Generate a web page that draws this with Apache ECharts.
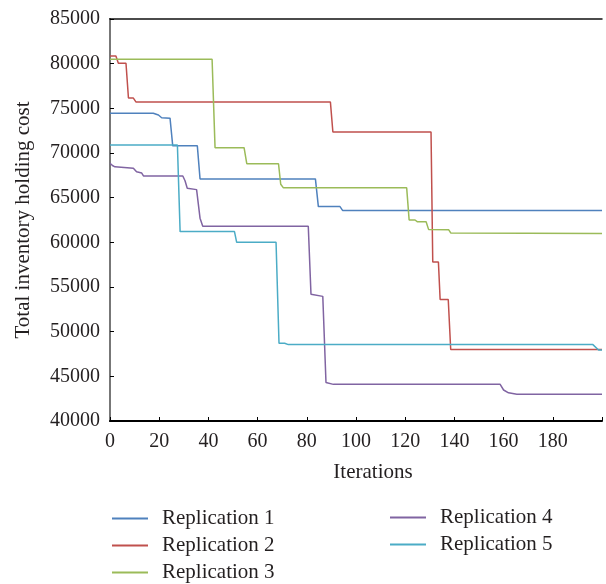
<!DOCTYPE html>
<html>
<head>
<meta charset="utf-8">
<script src="https://cdn.jsdelivr.net/npm/echarts@6/dist/echarts.min.js"></script>
<style>html,body{margin:0;padding:0;background:#fff}#c{width:606px;height:584px}</style>
</head>
<body>
<div id="c"></div>
<script>
const seriesNames = ['Replication 1','Replication 2','Replication 3','Replication 4','Replication 5'];
const rep1 = [[0,74450],[17.6,74450],[19.7,74250],[21,73950],[24.4,73900],[25.5,70800],[35.5,70800],[36.6,67100],[83.5,67100],[84.7,64000],[93.5,64000],[94.6,63550],[200,63550]];
const rep2 = [[0,80850],[2.4,80850],[3.4,80050],[6.5,80050],[7.5,76150],[9.5,76150],[10.6,75700],[89.6,75700],[90.6,72350],[130.5,72350],[131.2,57800],[133.5,57800],[134.2,53600],[137.5,53600],[138.5,48000],[200,48000]];
const rep3 = [[0,80500],[41.5,80500],[42.7,70600],[54.5,70600],[55.6,68800],[68.5,68800],[69.4,66500],[70.5,66100],[120.6,66100],[121.6,62500],[124,62500],[125,62300],[128.5,62300],[129.5,61450],[137.7,61400],[138.5,61050],[200,61000]];
const rep4 = [[0,68850],[1,68600],[2,68450],[9.5,68300],[10.8,67900],[12.9,67750],[13.6,67430],[29.6,67430],[30.5,66900],[31.4,66050],[35.2,65900],[36.6,62700],[37.7,61800],[80.6,61800],[81.7,54200],[86.5,53950],[87.8,44300],[90.8,44100],[158.6,44100],[160,43470],[162,43150],[165.4,43000],[200,43000]];
const rep5 = [[0,70900],[27.4,70900],[28.5,61200],[50.6,61200],[51.5,60000],[67.5,60000],[68.7,48700],[71,48700],[72.5,48550],[196.3,48550],[198.6,47950],[200,47950]];
const colors = ['#4F81BD','#C0504D','#9BBB59','#8064A2','#4BACC6'];
const xTicks = [0,20,40,60,80,100,120,140,160,180];

const font = "'Liberation Serif', 'DejaVu Serif', serif";
const txt = '#231f20';
const data = [rep1, rep2, rep3, rep4, rep5];

const legendBase = {
  orient:'vertical', icon:'rect', itemWidth:36, itemHeight:2, itemGap:6,
  padding:0, height:120, width:200,
  textStyle:{fontFamily:font, fontSize:21, color:txt, lineHeight:19, padding:[0,0,0,9]}
};

const chart = echarts.init(document.getElementById('c'));
chart.setOption({
  animation: false,
  color: colors,
  grid: {left:110, right:4, top:19, bottom:163},
  xAxis: [{
    type:'value', min:0, max:200, interval:20,
    name:'Iterations', nameLocation:'middle', nameGap:41,
    nameTextStyle:{fontFamily:font, fontSize:21, color:txt, padding:[0,0,0,34]},
    axisLine:{lineStyle:{color:'#000', width:2}},
    axisTick:{inside:true, length:4, lineStyle:{color:'#000'}},
    axisLabel:{fontFamily:font, fontSize:20, color:txt, margin:11,
      formatter: v => xTicks.indexOf(v) >= 0 ? String(v) : ''},
    splitLine:{show:false}
  }, {
    type:'value', position:'top', min:0, max:200,
    axisLine:{show:true, lineStyle:{color:'#111', width:1.5}},
    axisTick:{show:false}, axisLabel:{show:false}, splitLine:{show:false}
  }],
  yAxis: [{
    type:'value', min:40000, max:85000, interval:5000,
    name:'Total inventory holding cost', nameLocation:'middle', nameGap:76,
    nameTextStyle:{fontFamily:font, fontSize:21, color:txt},
    axisLine:{show:true, lineStyle:{color:'#000', width:2}},
    axisTick:{show:true, inside:true, length:4, lineStyle:{color:'#000'}},
    axisLabel:{fontFamily:font, fontSize:20, color:txt, margin:10, formatter: v => String(v)},
    splitLine:{show:false}
  }, {
    type:'value', position:'right', min:40000, max:85000,
    axisLine:{show:true, lineStyle:{color:'#777', width:2}},
    axisTick:{show:false}, axisLabel:{show:false}, splitLine:{show:false}
  }],
  legend: [
    Object.assign({data: seriesNames.slice(0,3), left:112, top:508}, legendBase),
    Object.assign({data: seriesNames.slice(3), left:390, top:507}, legendBase)
  ],
  series: seriesNames.map((n,i) => ({
    name:n, type:'line', data:data[i], symbol:'none', showSymbol:false,
    xAxisIndex:0, yAxisIndex:0,
    lineStyle:{width:1.5, color:colors[i]}, itemStyle:{color:colors[i]}
  }))
});
</script>
</body>
</html>
